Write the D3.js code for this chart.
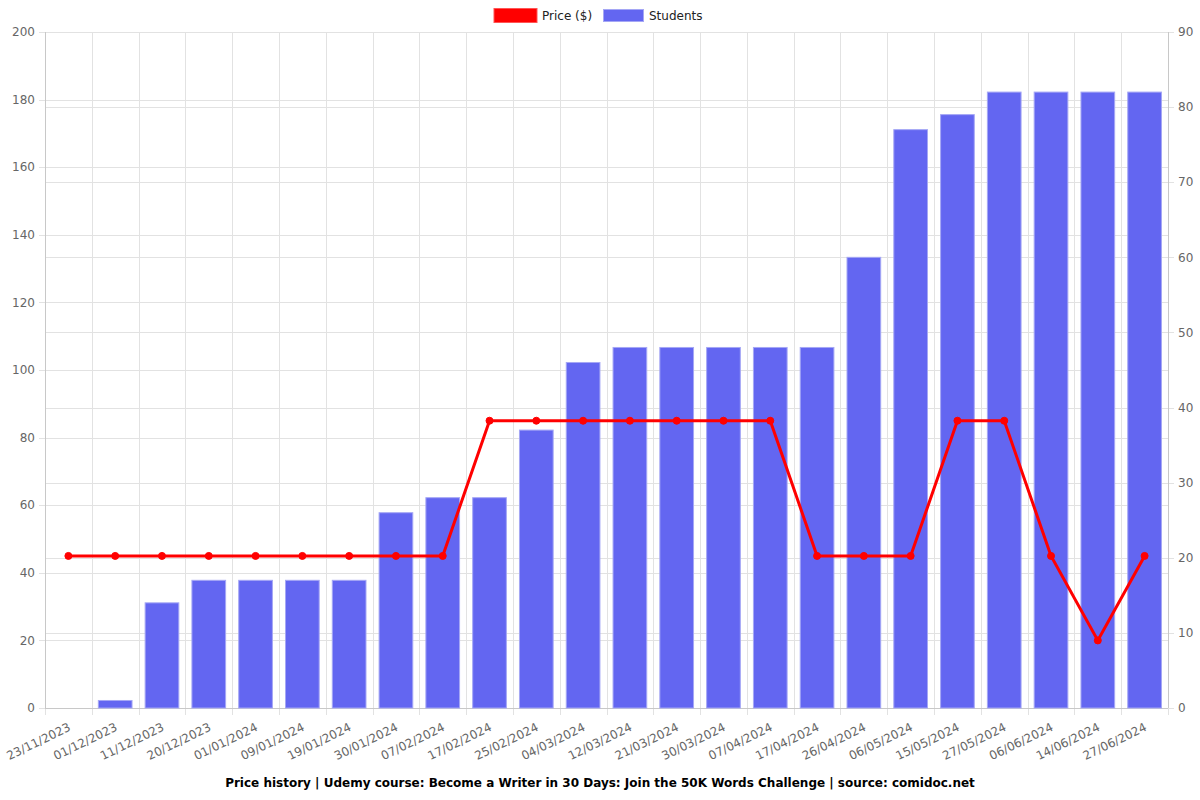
<!DOCTYPE html>
<html><head><meta charset="utf-8">
<script src="https://cdn.jsdelivr.net/npm/d3@7"></script>
<style>body{margin:0;background:#fff;font-family:"DejaVu Sans",sans-serif;}</style>
</head><body><svg id="c" width="1200" height="800"></svg>
<script>
const dates = ["23/11/2023","01/12/2023","11/12/2023","20/12/2023","01/01/2024","09/01/2024","19/01/2024","30/01/2024","07/02/2024","17/02/2024","25/02/2024","04/03/2024","12/03/2024","21/03/2024","30/03/2024","07/04/2024","17/04/2024","26/04/2024","06/05/2024","15/05/2024","27/05/2024","06/06/2024","14/06/2024","27/06/2024"];
const prices = [44.99,44.99,44.99,44.99,44.99,44.99,44.99,44.99,44.99,84.99,84.99,84.99,84.99,84.99,84.99,84.99,44.99,44.99,44.99,84.99,84.99,44.99,19.99,44.99];
const students = [0,1,14,17,17,17,17,26,28,28,37,46,48,48,48,48,48,60,77,79,82,82,82,82];
const leftTicks = [0,20,40,60,80,100,120,140,160,180,200];
const rightTicks = [0,10,20,30,40,50,60,70,80,90];
const title = "Price history | Udemy course: Become a Writer in 30 Days: Join the 50K Words Challenge | source: comidoc.net";

const svg = d3.select("#c");
const L = 45, R = 1168, T = 32, B = 708;
const x = d3.scaleBand().domain(dates).range([L, R]);
const yL = d3.scaleLinear().domain([0,200]).range([B, T]);
const yR = d3.scaleLinear().domain([0,90]).range([B, T]);
const grid = "#e2e2e2";

const g = svg.append("g");
dates.forEach((d,i)=>{
  const xx = Math.round(x(d)) + 0.5;
  g.append("line").attr("x1",xx).attr("x2",xx).attr("y1",T).attr("y2",B+7).attr("stroke",grid);
});
g.append("line").attr("x1",R+0.5).attr("x2",R+0.5).attr("y1",T).attr("y2",B+7).attr("stroke",grid);
leftTicks.forEach(t=>{
  const yy = Math.round(yL(t))+0.5;
  g.append("line").attr("x1",L-6).attr("x2",R).attr("y1",yy).attr("y2",yy).attr("stroke",grid);
});
rightTicks.forEach(t=>{
  const yy = Math.round(yR(t))+0.5;
  g.append("line").attr("x1",L).attr("x2",R+6).attr("y1",yy).attr("y2",yy).attr("stroke",grid);
});
g.append("line").attr("x1",L+0.5).attr("x2",L+0.5).attr("y1",T).attr("y2",B).attr("stroke","#c8c8c8");
g.append("line").attr("x1",R+0.5).attr("x2",R+0.5).attr("y1",T).attr("y2",B).attr("stroke","#c8c8c8");
g.append("line").attr("x1",L).attr("x2",R).attr("y1",B+0.5).attr("y2",B+0.5).attr("stroke","#c8c8c8");

leftTicks.forEach(t=>{
  svg.append("text").attr("x",L-10).attr("y",yL(t)).attr("dy","0.35em").attr("text-anchor","end")
    .attr("font-size",12).attr("fill","#666").text(t);
});
rightTicks.forEach(t=>{
  svg.append("text").attr("x",R+10).attr("y",yR(t)).attr("dy","0.35em").attr("text-anchor","start")
    .attr("font-size",12).attr("fill","#666").text(t);
});

const bw = x.bandwidth()*0.72;
svg.append("g").selectAll("rect").data(students).join("rect")
  .attr("x",(d,i)=>x(dates[i])+(x.bandwidth()-bw)/2)
  .attr("y",d=>yR(d))
  .attr("width",bw)
  .attr("height",d=>B-yR(d))
  .attr("fill","#6366f1")
  .attr("stroke","#a5a7f5").attr("stroke-width",1);

const line = d3.line().x((d,i)=>x(dates[i])+x.bandwidth()/2).y(d=>yL(d));
svg.append("path").datum(prices).attr("d",line).attr("fill","none").attr("stroke","#ff0000").attr("stroke-width",3);
svg.append("g").selectAll("circle").data(prices).join("circle")
  .attr("cx",(d,i)=>x(dates[i])+x.bandwidth()/2).attr("cy",d=>yL(d)).attr("r",3.5)
  .attr("fill","#ff0000").attr("stroke","#ff0000").attr("stroke-width",1);

dates.forEach(d=>{
  const cx = x(d)+x.bandwidth()/2;
  svg.append("text").attr("transform",`translate(${cx+3},${B+22}) rotate(-26)`)
    .attr("text-anchor","end").attr("font-size",12).attr("fill","#666").text(d);
});

svg.append("rect").attr("x",494).attr("y",8.5).attr("width",43).attr("height",14).attr("fill","#ff0000").attr("stroke","#ff5555");
svg.append("text").attr("x",542).attr("y",16).attr("dy","0.35em").attr("font-size",12).attr("fill","#222").text("Price ($)");
svg.append("rect").attr("x",603.5).attr("y",9.5).attr("width",40).attr("height",12).attr("fill","#6366f1").attr("stroke","#a5a7f5");
svg.append("text").attr("x",649).attr("y",16).attr("dy","0.35em").attr("font-size",12).attr("fill","#222").text("Students");

svg.append("text").attr("x",600).attr("y",783).attr("dy","0.35em").attr("text-anchor","middle")
  .attr("font-size",12).attr("font-weight","bold").attr("fill","#000").text(title);
</script></body></html>
